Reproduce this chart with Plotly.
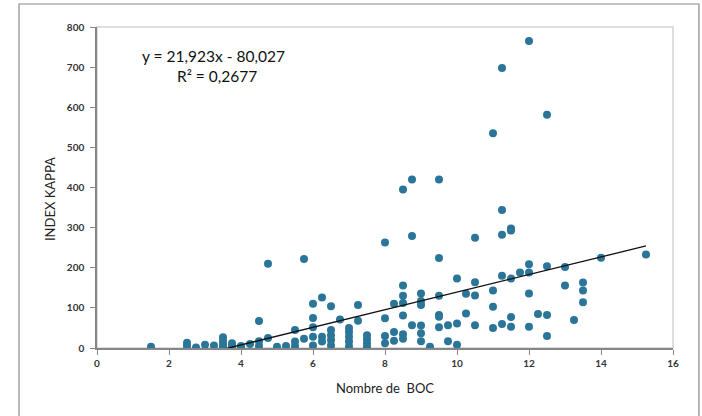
# Import Libraries
import plotly.graph_objects as go

# Data: number of BOC vs INDEX KAPPA
boc = [1.5, 2.5, 2.5, 2.75, 3, 3.25, 3.5, 3.5, 3.5, 3.5, 3.75, 3.75, 4, 4, 4.25,
       4.5, 4.5, 4.5, 4.75, 4.75, 5, 5.25, 5.5, 5.5, 5.5, 5.75, 5.75,
       6, 6, 6, 6, 6, 6.25, 6.25, 6.25, 6.5, 6.5, 6.5, 6.5, 6.5, 6.75,
       7, 7, 7, 7, 7, 7.25, 7.25, 7.5, 7.5, 7.5, 7.5, 8, 8, 8, 8, 8.25, 8.25, 8.25,
       8.5, 8.5, 8.5, 8.5, 8.5, 8.5, 8.5, 8.75, 8.75, 8.75,
       9, 9, 9, 9, 9, 9, 9.25, 9.5, 9.5, 9.5, 9.5, 9.5, 9.5, 9.75, 9.75,
       10, 10, 10, 10.25, 10.25, 10.5, 10.5, 10.5, 10.5, 11, 11, 11, 11,
       11.25, 11.25, 11.25, 11.25, 11.25, 11.5, 11.5, 11.5, 11.5, 11.5, 11.75,
       12, 12, 12, 12, 12, 12.25, 12.5, 12.5, 12.5, 12.5, 13, 13, 13.25,
       13.5, 13.5, 13.5, 14, 15.25]
kappa = [3, 13, 5, 1, 8, 6, 27, 18, 10, 3, 12, 5, 5, 0, 10,
         67, 17, 5, 210, 25, 3, 5, 45, 16, 5, 222, 23,
         110, 75, 52, 28, 6, 126, 28, 16, 104, 45, 32, 20, 6, 71,
         50, 40, 28, 16, 4, 107, 68, 32, 22, 12, 3, 263, 74, 30, 12, 110, 40, 18,
         395, 156, 130, 112, 81, 34, 23, 420, 279, 57,
         136, 117, 107, 56, 37, 17, 3, 420, 224, 130, 82, 78, 52, 57, 17,
         173, 61, 8, 135, 86, 275, 164, 131, 57, 535, 143, 103, 50,
         698, 344, 282, 180, 60, 298, 293, 173, 77, 53, 188,
         765, 209, 188, 136, 53, 85, 581, 204, 82, 30, 202, 156, 70,
         163, 143, 114, 225, 233]

# Linear trendline as printed on the chart
slope = 21.923
intercept = -80.027
trend_x = [min(boc), max(boc)]
trend_y = [slope * v + intercept for v in trend_x]

fig = go.Figure()
fig.add_trace(go.Scatter(x=boc, y=kappa, mode='markers', showlegend=False,
                         marker=dict(color='#2b7598', size=8)))
fig.add_trace(go.Scatter(x=trend_x, y=trend_y, mode='lines', showlegend=False,
                         line=dict(color='#111111', width=1.3)))

axis_col = '#868686'
tick_font = dict(family='Lato', size=10, color='#333333', weight='bold')

fig.update_layout(
    width=702, height=416,
    margin=dict(l=97, r=29, t=27, b=68),
    plot_bgcolor='white', paper_bgcolor='white',
    font=dict(family='Lato'),
    xaxis=dict(range=[0, 16], dtick=2, showgrid=False, zeroline=False,
               showline=True, linecolor=axis_col, linewidth=1.5,
               ticks='outside', ticklen=5, tickcolor=axis_col, tickfont=tick_font),
    yaxis=dict(range=[0, 800], dtick=100, showgrid=False, zeroline=False,
               showline=True, linecolor=axis_col, linewidth=1.5,
               ticks='outside', ticklen=5, tickcolor=axis_col, tickfont=tick_font,
               ticklabelstandoff=4),
    # inside half of the crossing tick marks
    xaxis2=dict(overlaying='x', matches='x', range=[0, 16], dtick=2, showgrid=False,
                zeroline=False, showticklabels=False, ticks='inside', ticklen=5,
                tickcolor=axis_col, anchor='y2'),
    yaxis2=dict(overlaying='y', matches='y', range=[0, 800], dtick=100, showgrid=False,
                zeroline=False, showticklabels=False, ticks='inside', ticklen=5,
                tickcolor=axis_col, anchor='x2'),
)

# Plot area border (light) and outer chart frame
fig.add_shape(type='rect', xref='paper', yref='paper', x0=0, y0=0, x1=1, y1=1,
              line=dict(color='#d4d4d4', width=1.5), layer='below')
fig.add_shape(type='rect', xref='paper', yref='paper', x0=-0.1354, y0=-0.23, x1=1.0451, y1=1.0717,
              line=dict(color='#8a8a8a', width=1.2), layer='below')

# Axis titles
fig.add_annotation(xref='paper', yref='paper', x=0.5, y=-0.1246, showarrow=False,
                   xanchor='center', yanchor='middle',
                   text='Nombre de  BOC', font=dict(size=13, color='#222222'))
fig.add_annotation(xref='paper', yref='paper', x=-0.0816, y=0.464, showarrow=False,
                   xanchor='center', yanchor='middle', textangle=-90,
                   text='INDEX KAPPA', font=dict(size=13, color='#222222'))

# Trendline equation
fig.add_annotation(xref='paper', yref='paper', x=0.2014, y=0.9097, showarrow=False,
                   xanchor='center', yanchor='middle',
                   text='y = 21,923x - 80,027', font=dict(size=15.5, color='#111111'))
fig.add_annotation(xref='paper', yref='paper', x=0.2083, y=0.8474, showarrow=False,
                   xanchor='center', yanchor='middle',
                   text='R² = 0,2677', font=dict(size=15.5, color='#111111'))

fig.write_html("out.html", config={'displayModeBar': False},
               post_script="document.body.style.margin='0';")
